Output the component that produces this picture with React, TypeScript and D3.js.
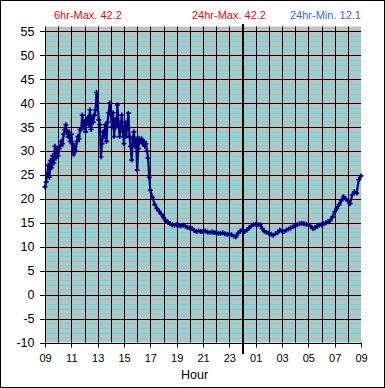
import React from "react";
import * as d3 from "d3";

// Temperatures 09:00–16:55 at 5-minute steps
const dayTemps: number[] = [
  22.5, 23.5, 25.0, 27.0, 24.5, 28.0, 26.5, 29.0, 27.5, 31.0, 28.5, 30.5,
  29.0, 30.5, 31.0, 32.0, 31.5, 33.5, 34.5, 35.5, 34.0, 33.0, 34.0, 32.0,
  33.5, 31.5, 29.2, 31.0, 30.0, 32.0, 33.0, 32.5, 34.5, 34.5, 37.5, 35.0,
  36.0, 34.0, 36.5, 37.0, 35.5, 38.6, 34.5, 37.0, 36.0, 37.5, 38.5, 42.2,
  40.0, 36.5, 35.5, 28.8, 31.5, 34.0, 33.0, 35.5, 32.0, 36.0, 38.0, 40.0,
  37.5, 35.0, 38.0, 33.0, 36.5, 35.0, 39.6, 36.0, 33.0, 35.0, 37.5, 34.0,
  31.5, 36.0, 33.0, 35.5, 37.9, 33.0, 31.0, 28.1, 32.5, 34.0, 31.0, 32.5,
  26.0, 30.5, 32.5, 32.0, 32.5, 31.5, 32.0, 31.0, 31.5, 30.0, 28.5, 24.5,
];

// Temperatures 17:00–09:00 at 10-minute steps
const nightTemps: number[] = [
  21.8, 20.3, 18.8, 18.0, 17.4, 16.8,
  16.1, 15.5, 15.1, 14.8, 14.6, 14.5,
  14.6, 14.5, 14.4, 14.5, 14.3, 14.0,
  13.9, 13.8, 13.4, 13.2, 13.3, 13.2,
  13.2, 13.3, 13.1, 13.0, 13.1, 13.0,
  12.9, 12.8, 12.8, 12.9, 12.7, 12.6,
  12.6, 12.5, 12.2, 12.1, 12.8, 13.3,
  13.5, 13.2, 13.5, 13.9, 14.4, 14.6,
  14.7, 14.6, 14.6, 13.8, 13.2, 13.0,
  12.8, 12.6, 12.4, 12.7, 13.0, 13.5,
  13.3, 13.2, 13.5, 13.7, 13.9, 14.2,
  14.4, 14.6, 14.8, 14.9, 14.8, 14.7,
  14.6, 14.3, 13.8, 13.9, 14.3, 14.5,
  14.6, 14.8, 15.0, 15.2, 15.5, 16.2,
  17.3, 18.0, 18.8, 19.6, 20.5, 20.0,
  19.6, 19.0, 20.8, 21.5, 21.2, 24.0,
  24.8,
];

const xTickLabels = ["09", "11", "13", "15", "17", "19", "21", "23", "01", "03", "05", "07", "09"];
const yTicks = [-10, -5, 0, 5, 10, 15, 20, 25, 30, 35, 40, 45, 50, 55];
const headerTexts = ["6hr-Max. 42.2", "24hr-Max. 42.2", "24hr-Min. 12.1"];

const W = 385;
const H = 388;
const FONT = "'Liberation Sans', Arial, sans-serif";

export default function App() {
  const x = d3.scaleLinear().domain([0, 24]).range([45, 361]);
  const y = d3.scaleLinear().domain([-10, 56]).range([342.5, 26.5]);

  const points: [number, number][] = [
    ...dayTemps.map((v, i) => [i / 12, v] as [number, number]),
    ...nightTemps.map((v, j) => [8 + j / 6, v] as [number, number]),
  ];

  const line = d3
    .line<[number, number]>()
    .x((d) => x(d[0]))
    .y((d) => y(d[1]));

  const hours = d3.range(0, 25);
  const minor = d3.range(-9, 56).filter((v) => v % 5 !== 0);
  const majors = d3.range(-10, 56, 5);
  const [x0, x1] = x.range();
  const [yb, yt] = y.range();

  return (
    <svg
      width={W}
      height={H}
      style={{ position: "absolute", left: 0, top: 0, background: "#fff" }}
      fontFamily={FONT}
    >
      <rect x={0.5} y={0.5} width={W - 1} height={H - 1} fill="#fff" stroke="#000" />
      <rect x={x0} y={yt} width={x1 - x0} height={yb - yt} fill="#c0c0c0" />
      {minor.map((v) => (
        <line
          key={"m" + v}
          x1={x0}
          x2={x1}
          y1={Math.round(y(v)) + 0.5}
          y2={Math.round(y(v)) + 0.5}
          stroke="#00ffff"
          strokeOpacity={0.85}
        />
      ))}
      {hours.slice(0, 24).map((h) => (
        <line
          key={"v" + h}
          x1={Math.round(x(h)) + 0.5}
          x2={Math.round(x(h)) + 0.5}
          y1={yt}
          y2={yb}
          stroke="#000"
        />
      ))}
      {majors.map((v) => (
        <line
          key={"M" + v}
          x1={40}
          x2={x1}
          y1={Math.round(y(v)) + 0.5}
          y2={Math.round(y(v)) + 0.5}
          stroke="#000"
        />
      ))}
      {yTicks.map((v) => (
        <text
          key={"yl" + v}
          x={34.5}
          y={y(v)}
          dy="0.36em"
          textAnchor="end"
          fontSize={12.5}
          fill="#000"
        >
          {v}
        </text>
      ))}
      {xTickLabels.map((t, i) => (
        <g key={"xt" + i}>
          <line
            x1={Math.round(x(i * 2)) + 0.5}
            x2={Math.round(x(i * 2)) + 0.5}
            y1={yb}
            y2={347.5}
            stroke="#000"
          />
          <text x={x(i * 2) + 0.5} y={361.5} textAnchor="middle" fontSize={11} fill="#000">
            {t}
          </text>
        </g>
      ))}
      <line x1={x(15) + 0.5} x2={x(15) + 0.5} y1={24} y2={354} stroke="#000" strokeWidth={2} />
      <path d={line(points) ?? ""} fill="none" stroke="#000080" strokeWidth={2.2} />
      {points.map((p, i) => {
        const px = x(p[0]);
        const py = y(p[1]);
        return (
          <path
            key={"p" + i}
            d={`M${px - 2.5},${py}H${px + 2.5}M${px},${py - 2.5}V${py + 2.5}`}
            stroke="#000080"
            strokeWidth={1.6}
          />
        );
      })}
      <text x={54} y={19} fontSize={11} fill="#ff0000">
        {headerTexts[0]}
      </text>
      <text x={192} y={19} fontSize={11} fill="#ff0000">
        {headerTexts[1]}
      </text>
      <text x={290} y={19} fontSize={11} fill="#3366ff">
        {headerTexts[2]}
      </text>
      <text x={194.5} y={378.5} textAnchor="middle" fontSize={12.5} fill="#000">
        Hour
      </text>
    </svg>
  );
}
